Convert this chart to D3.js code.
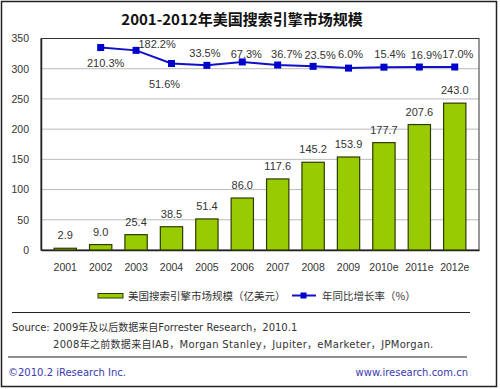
<!DOCTYPE html>
<html>
<head>
<meta charset="utf-8">
<script src="https://cdn.jsdelivr.net/npm/d3@7"></script>
<style>
body { margin: 0; background: #fff; }
text { font-family: "Liberation Sans", "Noto Sans CJK SC", sans-serif; }
</style>
</head>
<body>
<script>
var years = ["2001", "2002", "2003", "2004", "2005", "2006", "2007", "2008", "2009", "2010e", "2011e", "2012e"];
var marketSize = [2.9, 9.0, 25.4, 38.5, 51.4, 86.0, 117.6, 145.2, 153.9, 177.7, 207.6, 243.0];
var growthYears = ["2002", "2003", "2004", "2005", "2006", "2007", "2008", "2009", "2010e", "2011e", "2012e"];
var growthRate = [210.3, 182.2, 51.6, 33.5, 67.3, 36.7, 23.5, 6.0, 15.4, 16.9, 17.0];
var yTicks = [0, 50, 100, 150, 200, 250, 300, 350];

var width = 500, height = 389;
var plot = {left: 41, right: 479, top: 38.5, bottom: 250};

var svg = d3.select("body").append("svg")
    .attr("width", width)
    .attr("height", height);

// outer frame
svg.append("rect")
    .attr("x", 1.5).attr("y", 1.5)
    .attr("width", 495).attr("height", 385)
    .attr("fill", "#fff").attr("stroke", "#222").attr("stroke-width", 1.5);

svg.append("text")
    .attr("x", 242).attr("y", 25)
    .attr("text-anchor", "middle")
    .style("font-family", "'Noto Sans CJK SC', sans-serif")
    .style("font-size", "15px")
    .style("font-weight", "bold")
    .attr("fill", "#111")
    .text("2001-2012年美国搜索引擎市场规模");

var x = d3.scaleBand().domain(years).range([plot.left, plot.right]).padding(0.37);
var y = d3.scaleLinear().domain([0, 350]).range([plot.bottom, plot.top]);
// hidden secondary axis for the growth rate
var y2 = d3.scaleLinear().domain([-1800, 300]).range([plot.bottom, plot.top]);

// gridlines
svg.append("g").selectAll("line")
    .data(yTicks.slice(1, -1))
    .enter().append("line")
    .attr("x1", plot.left).attr("x2", plot.right)
    .attr("y1", function(d) { return y(d); })
    .attr("y2", function(d) { return y(d); })
    .attr("stroke", "#bbb").attr("stroke-width", 1);

svg.append("rect")
    .attr("x", plot.left).attr("y", plot.top)
    .attr("width", plot.right - plot.left).attr("height", plot.bottom - plot.top)
    .attr("fill", "none").attr("stroke", "#333").attr("stroke-width", 1);

// y axis
var yAxis = svg.append("g")
    .attr("transform", "translate(" + plot.left + ",0)")
    .call(d3.axisLeft(y).tickValues(yTicks).tickSize(0).tickPadding(12));
yAxis.select(".domain").attr("stroke", "#222").attr("stroke-width", 1.5);
yAxis.selectAll("text").style("font-size", "10.5px").attr("fill", "#333");

// x axis
var xAxis = svg.append("g")
    .attr("transform", "translate(0," + plot.bottom + ")")
    .call(d3.axisBottom(x).tickSize(0).tickPadding(14));
xAxis.select(".domain").attr("stroke", "#222").attr("stroke-width", 1.5);
xAxis.selectAll("text").style("font-size", "10.5px").attr("fill", "#333");

// bars
svg.append("g").selectAll("rect")
    .data(marketSize)
    .enter().append("rect")
    .attr("x", function(d, i) { return x(years[i]); })
    .attr("y", function(d) { return y(d); })
    .attr("width", x.bandwidth())
    .attr("height", function(d) { return plot.bottom - y(d); })
    .attr("fill", "#99cc00")
    .attr("stroke", "#2e3a00")
    .attr("stroke-width", 1.2);

svg.append("g").selectAll("text")
    .data(marketSize)
    .enter().append("text")
    .attr("x", function(d, i) { return x(years[i]) + x.bandwidth() / 2; })
    .attr("y", function(d) { return y(d) - 9; })
    .attr("text-anchor", "middle")
    .style("font-size", "11px")
    .attr("fill", "#333")
    .text(function(d) { return d.toFixed(1); });

// growth line
var cx = function(i) { return x(growthYears[i]) + x.bandwidth() / 2; };
var line = d3.line()
    .x(function(d, i) { return cx(i); })
    .y(function(d) { return y2(d); });

svg.append("path")
    .datum(growthRate)
    .attr("d", line)
    .attr("fill", "none")
    .attr("stroke", "#1010c8")
    .attr("stroke-width", 2);

svg.append("g").selectAll("rect")
    .data(growthRate)
    .enter().append("rect")
    .attr("x", function(d, i) { return cx(i) - 3.5; })
    .attr("y", function(d) { return y2(d) - 3.5; })
    .attr("width", 7).attr("height", 7)
    .attr("fill", "#0000cc");

// label offsets as placed in the original
var labelDx = [5, 21, -7, -2, 4, 9, 7, 2, 6, 7, 3];
var labelDy = [15, -6, 20, -12, -8, -11, -11, -14, -13, -12, -13];
svg.append("g").selectAll("text")
    .data(growthRate)
    .enter().append("text")
    .attr("x", function(d, i) { return cx(i) + labelDx[i]; })
    .attr("y", function(d, i) { return y2(d) + labelDy[i] + 4; })
    .attr("text-anchor", "middle")
    .style("font-size", "11px")
    .attr("fill", "#333")
    .text(function(d) { return d.toFixed(1) + "%"; });

// legend
var legend = svg.append("g");
legend.append("rect")
    .attr("x", 98).attr("y", 293.5).attr("width", 25).attr("height", 4.5)
    .attr("fill", "#99cc00").attr("stroke", "#2e3a00").attr("stroke-width", 1);
legend.append("text")
    .attr("x", 128).attr("y", 299.5)
    .style("font-family", "'Noto Sans CJK SC', sans-serif")
    .style("font-size", "10.5px").attr("fill", "#333")
    .text("美国搜索引擎市场规模（亿美元）");
legend.append("line")
    .attr("x1", 292).attr("x2", 316).attr("y1", 295.5).attr("y2", 295.5)
    .attr("stroke", "#1010c8").attr("stroke-width", 2);
legend.append("rect")
    .attr("x", 300.5).attr("y", 292.5).attr("width", 6).attr("height", 6)
    .attr("fill", "#0000cc");
legend.append("text")
    .attr("x", 322).attr("y", 299.5)
    .style("font-family", "'Noto Sans CJK SC', sans-serif")
    .style("font-size", "10.5px").attr("fill", "#333")
    .text("年同比增长率（%）");

// source and footer
svg.append("line")
    .attr("x1", 12).attr("x2", 470).attr("y1", 312.5).attr("y2", 312.5)
    .attr("stroke", "#222").attr("stroke-width", 1.2);
svg.append("text")
    .attr("x", 12).attr("y", 331)
    .style("font-family", "'DejaVu Sans', 'Noto Sans CJK SC', sans-serif")
    .style("font-size", "10px").attr("fill", "#333")
    .text("Source: 2009年及以后数据来自Forrester Research，2010.1");
svg.append("text")
    .attr("x", 53).attr("y", 348)
    .style("font-family", "'DejaVu Sans', 'Noto Sans CJK SC', sans-serif")
    .style("font-size", "10px").style("letter-spacing", "0.3px").attr("fill", "#333")
    .text("2008年之前数据来自IAB，Morgan Stanley，Jupiter，eMarketer，JPMorgan.");
svg.append("line")
    .attr("x1", 8).attr("x2", 467).attr("y1", 357).attr("y2", 357)
    .attr("stroke", "#222").attr("stroke-width", 1.2);
svg.append("text")
    .attr("x", 8).attr("y", 376)
    .style("font-family", "'DejaVu Sans', sans-serif")
    .style("font-size", "10px").attr("fill", "#3a3ab0")
    .text("©2010.2  iResearch Inc.");
svg.append("text")
    .attr("x", 468).attr("y", 376)
    .attr("text-anchor", "end")
    .style("font-family", "'DejaVu Sans', sans-serif")
    .style("font-size", "10px").attr("fill", "#3a3ab0")
    .text("www.iresearch.com.cn");
</script>
</body>
</html>
